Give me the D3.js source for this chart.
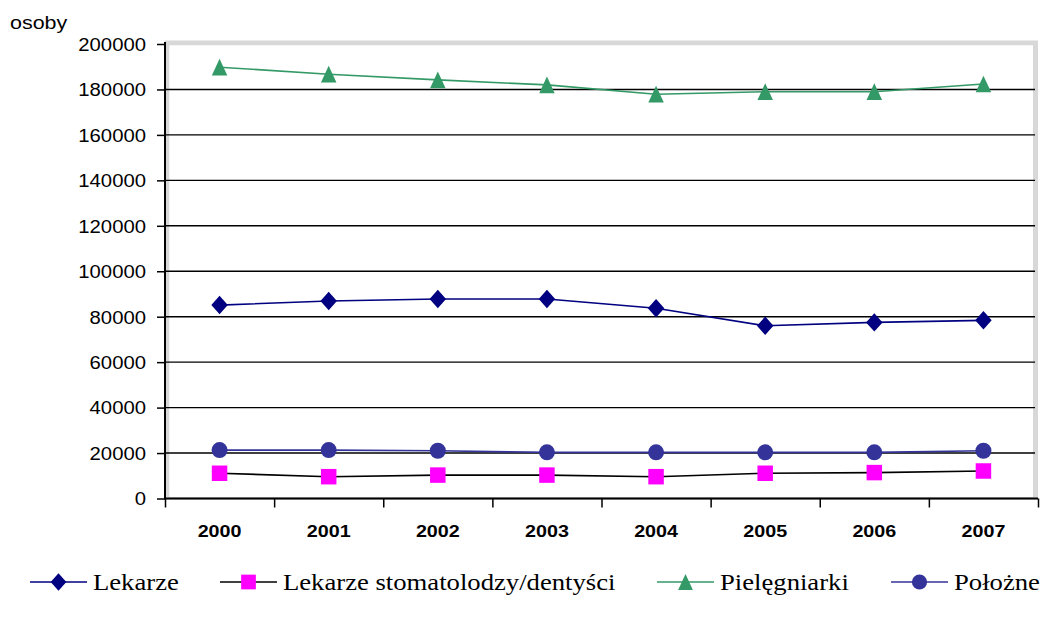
<!DOCTYPE html>
<html>
<head>
<meta charset="utf-8">
<script src="https://cdn.jsdelivr.net/npm/d3@7"></script>
<style>
  html, body { margin: 0; padding: 0; background: #fff; }
  svg { display: block; }
</style>
</head>
<body>
<svg id="chart" width="1040" height="620"></svg>
<script>
// ---- data ----
const years = ["2000", "2001", "2002", "2003", "2004", "2005", "2006", "2007"];
const lekarze = [85100, 86900, 87800, 87800, 83700, 76000, 77500, 78400];
const stomatolodzy = [11100, 9600, 10300, 10300, 9600, 11100, 11400, 12100];
const pielegniarki = [189800, 186700, 184200, 182000, 177900, 179000, 179000, 182400];
const polozne = [21300, 21300, 21000, 20300, 20300, 20300, 20300, 21000];
const yTicks = [0, 20000, 40000, 60000, 80000, 100000, 120000, 140000, 160000, 180000, 200000];
const yTitle = "osoby";
const seriesNames = ["Lekarze", "Lekarze stomatolodzy/dentyści", "Pielęgniarki", "Położne"];

// ---- custom marker shapes (size = full marker width) ----
const diamond = { draw(ctx, size) { const w = size / 2, h = size * 0.56;
  ctx.moveTo(0, -h); ctx.lineTo(w, 0); ctx.lineTo(0, h); ctx.lineTo(-w, 0); ctx.closePath(); } };
const square = { draw(ctx, size) { const s = size / 2; ctx.rect(-s, -s, size, size); } };
const triangle = { draw(ctx, size) { const w = size / 2, h = size * 0.54;
  ctx.moveTo(0, -h); ctx.lineTo(w, h); ctx.lineTo(-w, h); ctx.closePath(); } };
const circle = { draw(ctx, size) { const r = size / 2; ctx.moveTo(r, 0); ctx.arc(0, 0, r, 0, 2 * Math.PI); } };

const series = [
  { name: seriesNames[0], values: lekarze, line: "#000080", fill: "#000080", shape: diamond, size: 16.5 },
  { name: seriesNames[1], values: stomatolodzy, line: "#000000", fill: "#FF00FF", shape: square, size: 15.5 },
  { name: seriesNames[2], values: pielegniarki, line: "#339966", fill: "#339966", shape: triangle, size: 15.5 },
  { name: seriesNames[3], values: polozne, line: "#333399", fill: "#333399", shape: circle, size: 16 }
];

// ---- layout ----
const L = 165, R = 1038, T = 44, B = 498.5;
const hs = 1.16; // horizontal stretch of text
const svg = d3.select("#chart");

const x = d3.scaleBand().domain(years).range([L, R]);
const xEdge = d3.scaleLinear().domain([0, years.length]).range([L, R]);
const y = d3.scaleLinear().domain([0, 200000]).range([B, T]);

// plot frame (light gray border)
svg.append("rect")
  .attr("x", L + 2).attr("y", T - 1)
  .attr("width", R - L - 4.5).attr("height", B - T)
  .attr("fill", "#fff").attr("stroke", "#d8d8d8").attr("stroke-width", 5);
svg.append("rect")
  .attr("x", L + 4.5).attr("y", T + 1.5)
  .attr("width", R - L - 9.5).attr("height", B - T - 3)
  .attr("fill", "#fff");

// gridlines
svg.append("g").selectAll("line")
  .data(yTicks.filter(d => d > 0 && d < 200000))
  .join("line")
  .attr("x1", L).attr("x2", R - 3)
  .attr("y1", d => y(d)).attr("y2", d => y(d))
  .attr("stroke", "#000").attr("stroke-width", 1.4);

// y axis
const yAxis = svg.append("g").attr("transform", `translate(${L},0)`)
  .call(d3.axisLeft(y).tickValues(yTicks).tickSize(8).tickFormat(d3.format("d")));
yAxis.select(".domain").attr("stroke", "#000").attr("stroke-width", 2).attr("d", `M0,${T - 2}V${B}`);
yAxis.selectAll(".tick line").attr("stroke", "#000").attr("stroke-width", 1.5);
yAxis.selectAll(".tick text")
  .attr("font-family", "Liberation Sans, Arial, sans-serif")
  .attr("font-size", 17.5).attr("fill", "#000")
  .attr("x", -19 / hs).attr("dy", "0.36em")
  .attr("transform", `scale(${hs},1)`);

// x axis: ticks at band edges
const xAxisTicks = svg.append("g").attr("transform", `translate(0,${B})`)
  .call(d3.axisBottom(xEdge).tickValues(d3.range(0, years.length + 1)).tickSize(9).tickFormat(""));
xAxisTicks.select(".domain").attr("stroke", "#000").attr("stroke-width", 2).attr("d", `M${L - 1},0H${R}`);
xAxisTicks.selectAll(".tick line").attr("stroke", "#000").attr("stroke-width", 1.5);

// x labels at band centers
const xAxisLabels = svg.append("g").attr("transform", `translate(0,${B})`)
  .call(d3.axisBottom(x).tickSize(0));
xAxisLabels.select(".domain").remove();
xAxisLabels.selectAll(".tick text")
  .attr("font-family", "Liberation Sans, Arial, sans-serif")
  .attr("font-size", 17).attr("font-weight", "bold").attr("fill", "#000")
  .attr("y", 38.5).attr("dy", 0)
  .attr("transform", `scale(${hs},1)`)
  .each(function() {
    const g = this.parentNode;
    const tx = +g.getAttribute("transform").match(/translate\(([-\d.]+)/)[1];
    d3.select(g).attr("transform", `translate(${tx},0)`);
  });

// y title
svg.append("text")
  .attr("x", 10 / hs).attr("y", 29)
  .attr("transform", `scale(${hs},1)`)
  .attr("font-family", "Liberation Sans, Arial, sans-serif")
  .attr("font-size", 18.5).attr("fill", "#000")
  .text(yTitle);

// lines and markers
const lineGen = d3.line().x((d, i) => x(years[i]) + x.bandwidth() / 2).y(d => y(d));
const seriesG = svg.append("g");
series.forEach(s => {
  seriesG.append("path").datum(s.values)
    .attr("d", lineGen).attr("fill", "none")
    .attr("stroke", s.line).attr("stroke-width", 1.6);
});
series.forEach(s => {
  seriesG.append("g").selectAll("path")
    .data(s.values).join("path")
    .attr("transform", (d, i) => `translate(${x(years[i]) + x.bandwidth() / 2},${y(d)})`)
    .attr("d", d3.symbol().type(s.shape).size(s.size))
    .attr("fill", s.fill);
});

// legend
const legendStarts = [30, 220, 657, 891];
const legendY = 582;
const legend = svg.append("g");
series.forEach((s, i) => {
  const g = legend.append("g").attr("transform", `translate(${legendStarts[i]},${legendY})`);
  g.append("line").attr("x1", 0).attr("x2", 57).attr("y1", 0).attr("y2", 0)
    .attr("stroke", s.line).attr("stroke-width", 1.6);
  g.append("path").attr("transform", "translate(28.5,0)")
    .attr("d", d3.symbol().type(s.shape).size(s.size * 0.95)).attr("fill", s.fill);
  g.append("text")
    .attr("x", 63 / hs).attr("y", 8)
    .attr("transform", `scale(${hs},1)`)
    .attr("font-family", "Liberation Serif, 'Times New Roman', serif")
    .attr("font-size", 23).attr("fill", "#000")
    .text(s.name);
});
</script>
</body>
</html>
